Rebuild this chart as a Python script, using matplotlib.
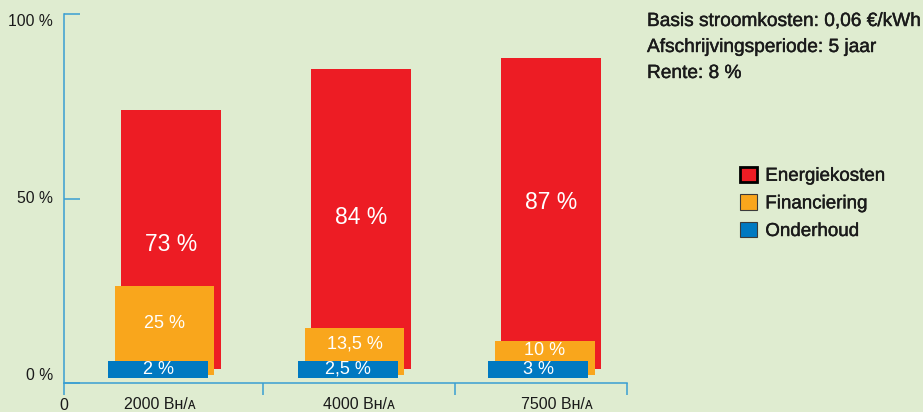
import matplotlib.pyplot as plt
import matplotlib.patheffects as pe
import numpy as np
from matplotlib.patches import Patch

plt.rcParams['font.family'] = ['Liberation Sans', 'DejaVu Sans']

# waarden uit de grafiek (procent van de totale kosten)
categories = ['2000 Bʜ/ᴀ', '4000 Bʜ/ᴀ', '7500 Bʜ/ᴀ']
energiekosten = [73, 84, 87]
financiering = [25, 13.5, 10]
onderhoud = [2, 2.5, 3]
legend_labels = ['Energiekosten', 'Financiering', 'Onderhoud']
info_lines = ['Basis stroomkosten: 0,06 €/kWh', 'Afschrijvingsperiode: 5 jaar', 'Rente: 8 %']
y_ticks = [0, 50, 100]
y_ticklabels = ['0 %', '50 %', '100 %']

BG = '#dfecd0'
AXIS = '#3a9fd2'
RED, ORANGE, BLUE = '#ed1c24', '#f9a61c', '#0079c1'
TXT = '#1a1a1a'
heavy = [pe.withStroke(linewidth=0.3, foreground=TXT)]


def pct(v):
    return f"{v:g} %".replace('.', ',')


fig = plt.figure(figsize=(9.23, 4.12), dpi=100, facecolor=BG)
ax = fig.add_axes([64 / 923, 28.6 / 412, 563 / 923, 369.4 / 412])
ax.set_facecolor(BG)

x = np.arange(len(categories))
width = 0.526
dx = 0.034          # schuine "diepte" per laag
base = 1.5          # voorste grondlijn
band = 4.6          # minimale hoogte blauwe balk voor het label
red_bottom, orange_bottom = 3.9, 2.3

e = np.array(energiekosten)
f = np.array(financiering)
o = np.array(onderhoud)

ax.bar(x + 2 * dx, e + 1.0 - red_bottom, bottom=red_bottom, width=width, color=RED, zorder=2)
ax.bar(x + dx, f + base - orange_bottom, bottom=orange_bottom, width=width, color=ORANGE, zorder=3)
blue_h = np.maximum(o, band)
ax.bar(x, blue_h, bottom=base, width=width, color=BLUE, zorder=4)

energie_label_y = [37.7, 44.8, 49.1]
for i in range(len(x)):
    ax.text(x[i] + 2 * dx, energie_label_y[i], pct(e[i]), ha='center', va='center',
            color='white', fontsize=16.5, zorder=5)
    ax.text(x[i] + dx, (base + blue_h[i] + f[i] + base) / 2, pct(f[i]), ha='center', va='center',
            color='white', fontsize=13, zorder=5)
    ax.text(x[i], base + blue_h[i] / 2, pct(o[i]), ha='center', va='center',
            color='white', fontsize=13, zorder=5)

xmin, xmax = -0.495, 2.468
ax.set_xlim(xmin, xmax)
ax.set_ylim(0, 100)

ax.set_yticks(y_ticks, y_ticklabels)
ax.tick_params(axis='y', direction='in', length=11.5, width=1.1, color=AXIS, pad=8,
               labelsize=11.3, labelcolor=TXT)
for lbl, va in zip(ax.get_yticklabels(), ['bottom', 'center', 'top']):
    lbl.set_verticalalignment(va)

ax.set_xticks([xmin, 0.553, 1.563, xmax], ['0', '', '', ''])
ax.tick_params(axis='x', direction='out', length=8.6, width=1.1, color=AXIS, pad=2,
               labelsize=11.5, labelcolor=TXT)

label_x = [0.01, 1.06, 2.1]
for lx, cat in zip(label_x, categories):
    ax.annotate(cat, xy=(lx, 0), xycoords=('data', 'axes fraction'), xytext=(0, -15.5),
                textcoords='offset points', ha='center', va='center', fontsize=11.5, color=TXT)

for side in ['top', 'right']:
    ax.spines[side].set_visible(False)
for side in ['left', 'bottom']:
    ax.spines[side].set_color(AXIS)
    ax.spines[side].set_linewidth(1.1)

for i, line in enumerate(info_lines):
    fig.text(647 / 923, 1 - (21.5 + 26 * i) / 412, line, va='center', ha='left', fontsize=13.75,
             color=TXT, path_effects=heavy)

handles = [Patch(facecolor=RED, edgecolor='black', linewidth=2),
           Patch(facecolor=ORANGE, edgecolor='#3b3b3b', linewidth=0.8),
           Patch(facecolor=BLUE, edgecolor='#3b3b3b', linewidth=0.8)]
leg = fig.legend(handles, legend_labels, loc='upper left', bbox_to_anchor=(740 / 923, 1 - 166.5 / 412),
                 frameon=False, fontsize=13.5, handlelength=0.9, handleheight=0.9, handletextpad=0.45,
                 labelspacing=0.5, borderpad=0, borderaxespad=0)
for t in leg.get_texts():
    t.set_color(TXT)
    t.set_path_effects(heavy)

fig.savefig('out.png', dpi=100, facecolor=BG)
plt.close(fig)
